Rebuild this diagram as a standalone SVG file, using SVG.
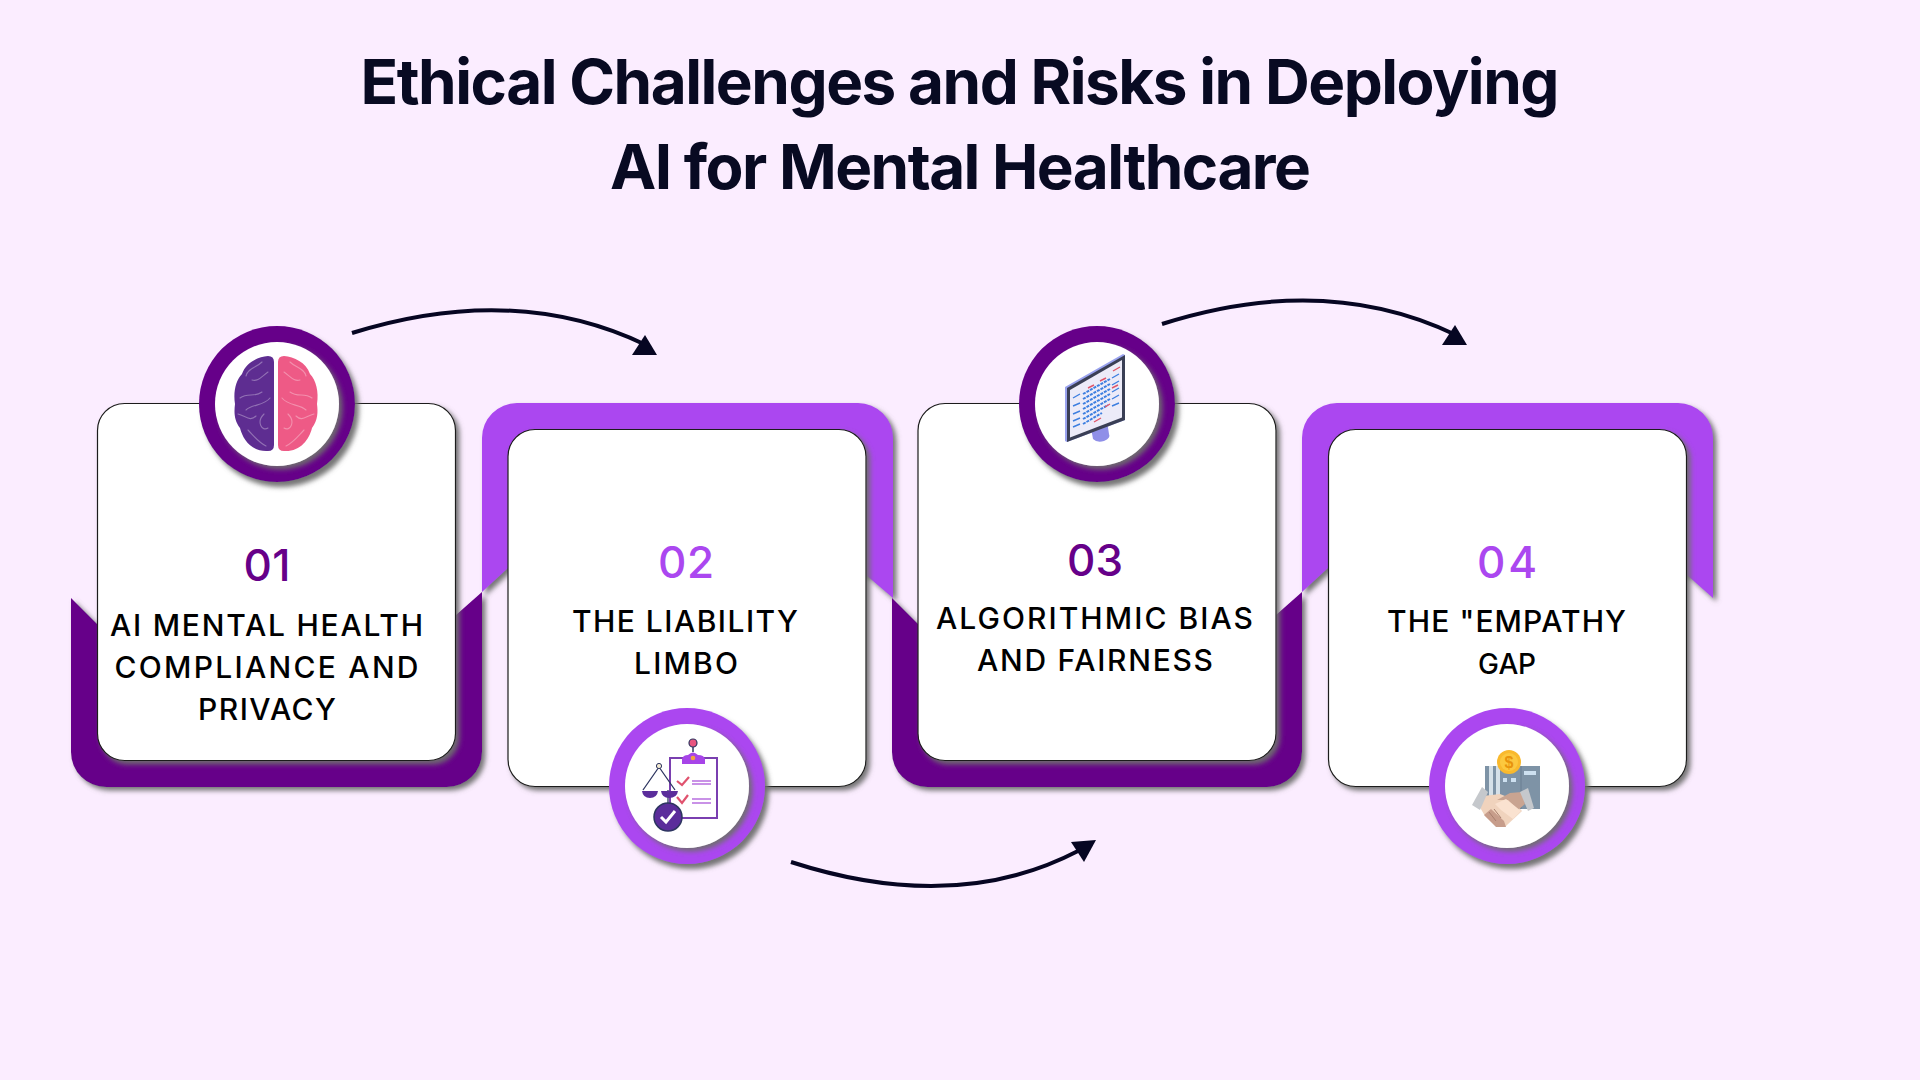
<svg xmlns="http://www.w3.org/2000/svg" width="1920" height="1080" viewBox="0 0 1920 1080">
<defs>
<filter id="sh" x="-20%" y="-20%" width="140%" height="140%"><feDropShadow dx="3.500" dy="3.500" stdDeviation="2.800" flood-color="#6e6e6e" flood-opacity="0.95"/></filter>
<filter id="shc" x="-20%" y="-20%" width="140%" height="140%"><feDropShadow dx="4" dy="5" stdDeviation="2.800" flood-color="#6e6e6e" flood-opacity="0.95"/></filter>
</defs>
<style>
.title{font-family:"Inter","Liberation Sans",sans-serif;font-weight:700;font-size:62px;fill:#080a22;text-anchor:middle}
.num{font-family:"Inter","Liberation Sans",sans-serif;font-weight:500;font-size:44px;text-anchor:middle}
.lab{font-family:"Inter","Liberation Sans",sans-serif;font-weight:500;font-size:30px;fill:#000;text-anchor:middle}
.dark{fill:#660089}.light{fill:#ab47f0}
.band{filter:url(#sh)}
.card{fill:#fff;stroke:#1c1c1c;stroke-width:1.2;filter:url(#sh)}
.ring{filter:url(#shc)}
.hole{fill:#fff;filter:url(#sh)}
.conn{fill:none;stroke:#060622;stroke-width:4}
.head{fill:#060622}
.gy{fill:none;stroke:#fff;stroke-opacity:.32;stroke-width:1.100;stroke-linecap:round}
</style>
<rect width="1920" height="1080" fill="#fbedff"/>
<g id="title">
<text class="title" x="960" y="103.500" textLength="1199">Ethical Challenges and Risks in Deploying</text>
<text class="title" x="960.500" y="189" textLength="701">AI for Mental Healthcare</text>
</g>
<g id="connectors">
<path class="conn" d="M352 333Q515 282 646 345"/>
<polygon class="head" points="645,335 632,355 657,355"/>
<path class="conn" d="M791 862Q955 915 1078 851"/>
<polygon class="head" points="1071,842 1096,840 1084,862"/>
<path class="conn" d="M1162 324Q1325 272 1456 335"/>
<polygon class="head" points="1455,325 1442,345 1467,345"/>
</g>
<g id="node-1">
<path class="band dark" d="M71 598L97 624L456 615L482 592V752A35 35 0 0 1 447 787H106A35 35 0 0 1 71 752Z"/>
</g>
<g id="node-2">
<path class="band light" d="M482 592L508 568L866 575L893 598V438A35 35 0 0 0 858 403H517A35 35 0 0 0 482 438Z"/>
</g>
<g id="node-3">
<path class="band dark" d="M892 598L918 624L1276 615L1302 592V752A35 35 0 0 1 1267 787H927A35 35 0 0 1 892 752Z"/>
</g>
<g id="node-4">
<path class="band light" d="M1302 592L1328 568L1687 575L1713 598V438A35 35 0 0 0 1678 403H1337A35 35 0 0 0 1302 438Z"/>
</g>
<g id="card-1">
<rect class="card" x="97.500" y="403.500" width="358" height="357" rx="27"/>
<text class="num dark" x="267" y="581" textLength="47">01</text>
<text class="lab" x="266.500" y="636" textLength="313">AI MENTAL HEALTH</text>
<text class="lab" x="266.500" y="678" textLength="304">COMPLIANCE AND</text>
<text class="lab" x="267" y="720" textLength="138">PRIVACY</text>
<circle class="ring dark" cx="277" cy="404" r="78"/>
<circle class="hole" cx="277" cy="404" r="62"/>
<path fill="#5e2d91" d="M268 356Q274 356 274 362V445Q274 451 268 451C252 452 243 440 240 428C234 420 234 412 235 404C233 392 236 380 242 374C246 362 258 357 268 356Z"/>
<path fill="#ee5a86" d="M284 356Q278 356 278 362V445Q278 451 284 451C300 452 309 440 312 428C318 420 318 412 317 404C319 392 316 380 310 374C306 362 294 357 284 356Z"/>
<path class="gy" d="M262 362C256 368 248 368 246 376M268 372C262 376 258 382 252 380M240 398C248 392 254 398 262 392M270 398C264 406 252 404 246 410M238 414C246 416 250 422 256 416M264 414C256 422 262 432 268 428M248 430C254 436 258 442 266 446M290 362C296 368 304 368 306 376M284 372C290 376 294 382 300 380M312 398C304 392 298 398 290 392M282 398C288 406 300 404 306 410M314 414C306 416 302 422 296 416M288 414C296 422 290 432 284 428M304 430C298 436 294 442 286 446"/>
</g>
<g id="card-2">
<rect class="card" x="508" y="429.500" width="358" height="357" rx="27"/>
<text class="num light" x="686" y="578" textLength="56">02</text>
<text class="lab" x="685" y="632" textLength="226">THE LIABILITY</text>
<text class="lab" x="686" y="674" textLength="104">LIMBO</text>
<circle class="ring light" cx="687" cy="786" r="78"/>
<circle class="hole" cx="687" cy="786" r="62"/>
<rect x="670" y="758" width="47" height="60" fill="#fff" stroke="#7a3fb0" stroke-width="2"/>
<path d="M682 764V759Q683 755 688 755Q693 750 698 755Q704 755 705 759V764Z" fill="#a744e8"/>
<path d="M693 752V747" stroke="#2d3560" stroke-width="1.500"/>
<circle cx="693" cy="743" r="4" fill="#e8557f" stroke="#2d3560" stroke-width="1.200"/>
<circle cx="693" cy="758" r="2.300" fill="#f4a340"/>
<path d="M677 781L682 785L689 777M677 797L682 803L688 795" fill="none" stroke="#e0526e" stroke-width="2.200"/>
<path d="M692 781H711M692 784H711M692 799H711M692 803H711" stroke="#b86fe0" stroke-width="1.300"/>
<path d="M659 767L643 790M659 767L675 790M668 790V804" stroke="#2d3560" stroke-width="1.300" fill="none"/>
<circle cx="659" cy="766" r="2.600" fill="#f3ead0" stroke="#2d3560"/>
<path d="M642 791H658Q657 798 650 798Q643 798 642 791ZM661 791H678Q677 798 669 798Q662 798 661 791Z" fill="#5b2d9b"/>
<circle cx="668" cy="817" r="14" fill="#5b2d9b" stroke="#2d3560" stroke-width="1.500"/>
<path d="M661 817L666 822L675 811" fill="none" stroke="#fff" stroke-width="3"/>
</g>
<g id="card-3">
<rect class="card" x="918" y="403.500" width="358" height="357" rx="27"/>
<text class="num dark" x="1095" y="576" textLength="56">03</text>
<text class="lab" x="1094.500" y="629" textLength="317">ALGORITHMIC BIAS</text>
<text class="lab" x="1095" y="671" textLength="236">AND FAIRNESS</text>
<circle class="ring dark" cx="1097" cy="404" r="78"/>
<circle class="hole" cx="1097" cy="404" r="62"/>
<path d="M1091 428L1107 421L1109 434Q1111 438 1104 441Q1097 443 1093 439Z" fill="#8f8fe8"/>
<path d="M1065 387L1123 354L1125 355V420L1067 442L1065 441Z" fill="#9aa3ef"/>
<path d="M1067 388L1125 355V420L1067 442Z" fill="#3a3f55"/>
<path d="M1070 390L1122 360V417.500L1070 437.500Z" fill="#ecebf8"/>
<g fill="none" stroke-width="1.400" stroke="#3d7fe0">
<path d="M1073 398L1080 394M1073 406L1080 403M1073 414L1080 411M1073 421L1080 418M1073 427L1080 424M1112 378L1119 374M1112 385L1119 381M1112 392L1119 388M1112 399L1119 395M1112 406L1119 403"/>
<path stroke-dasharray="3 1" stroke-width="2" d="M1083 394L1110 379M1083 399L1110 384M1083 404L1110 389M1083 409L1110 394M1083 414L1110 399M1083 419L1108 405M1083 424L1102 413"/>
<path stroke="#e0566a" d="M1088 388L1094 385M1100 381L1106 378M1113 371L1120 367M1094 422L1101 418M1105 407L1110 404M1112 388L1118 385"/>
</g>
</g>
<g id="card-4">
<rect class="card" x="1328.500" y="429.500" width="358" height="357" rx="27"/>
<text class="num light" x="1507" y="578" textLength="60">04</text>
<text class="lab" x="1506.500" y="632" textLength="239">THE "EMPATHY</text>
<text class="lab" x="1507" y="674" textLength="58" style="font-size:28px;font-kerning:none">GAP</text>
<circle class="ring light" cx="1507" cy="786" r="78"/>
<circle class="hole" cx="1507" cy="786" r="62"/>
<rect x="1485" y="766" width="55" height="43" fill="#7e93a6"/>
<path d="M1489 766H1493V796H1489ZM1496 766H1500V796H1496Z" fill="#d5e0e8"/>
<path d="M1524 771H1536V775H1524ZM1503 778H1507V782H1503ZM1511 778H1516V782H1511Z" fill="#cde0f0"/>
<path d="M1521 766V809" stroke="#6a7f92"/>
<circle cx="1509" cy="762" r="12" fill="#f9b92d"/>
<circle cx="1509" cy="762" r="9" fill="#fcc83f"/>
<text x="1509" y="768" font-family="Liberation Sans,sans-serif" font-size="16" font-weight="700" fill="#e8930c" text-anchor="middle">$</text>
<path d="M1483 796L1500 794L1510 798L1522 811L1506 826L1497 827L1485 816L1478 804Z" fill="#f0d3bd"/>
<path d="M1484 815L1496 827L1506 827L1504 821L1491 809Z" fill="#c79d8b"/>
<path d="M1489 812L1496 821M1494 809L1501 818" stroke="#a87f6e" stroke-width="1"/>
<path d="M1497 800L1510 793L1522 792L1525 804L1518 810L1508 800Z" fill="#c9a491"/>
<path d="M1495 804L1506 799L1521 811L1513 819L1501 810Z" fill="#fae2d0"/>
<path d="M1472 805L1482 787L1488 792L1480 810Z" fill="#c5c8cc"/>
<path d="M1520 792L1528 788L1534 808L1528 811Z" fill="#c5c8cc"/>
</g>
</svg>
